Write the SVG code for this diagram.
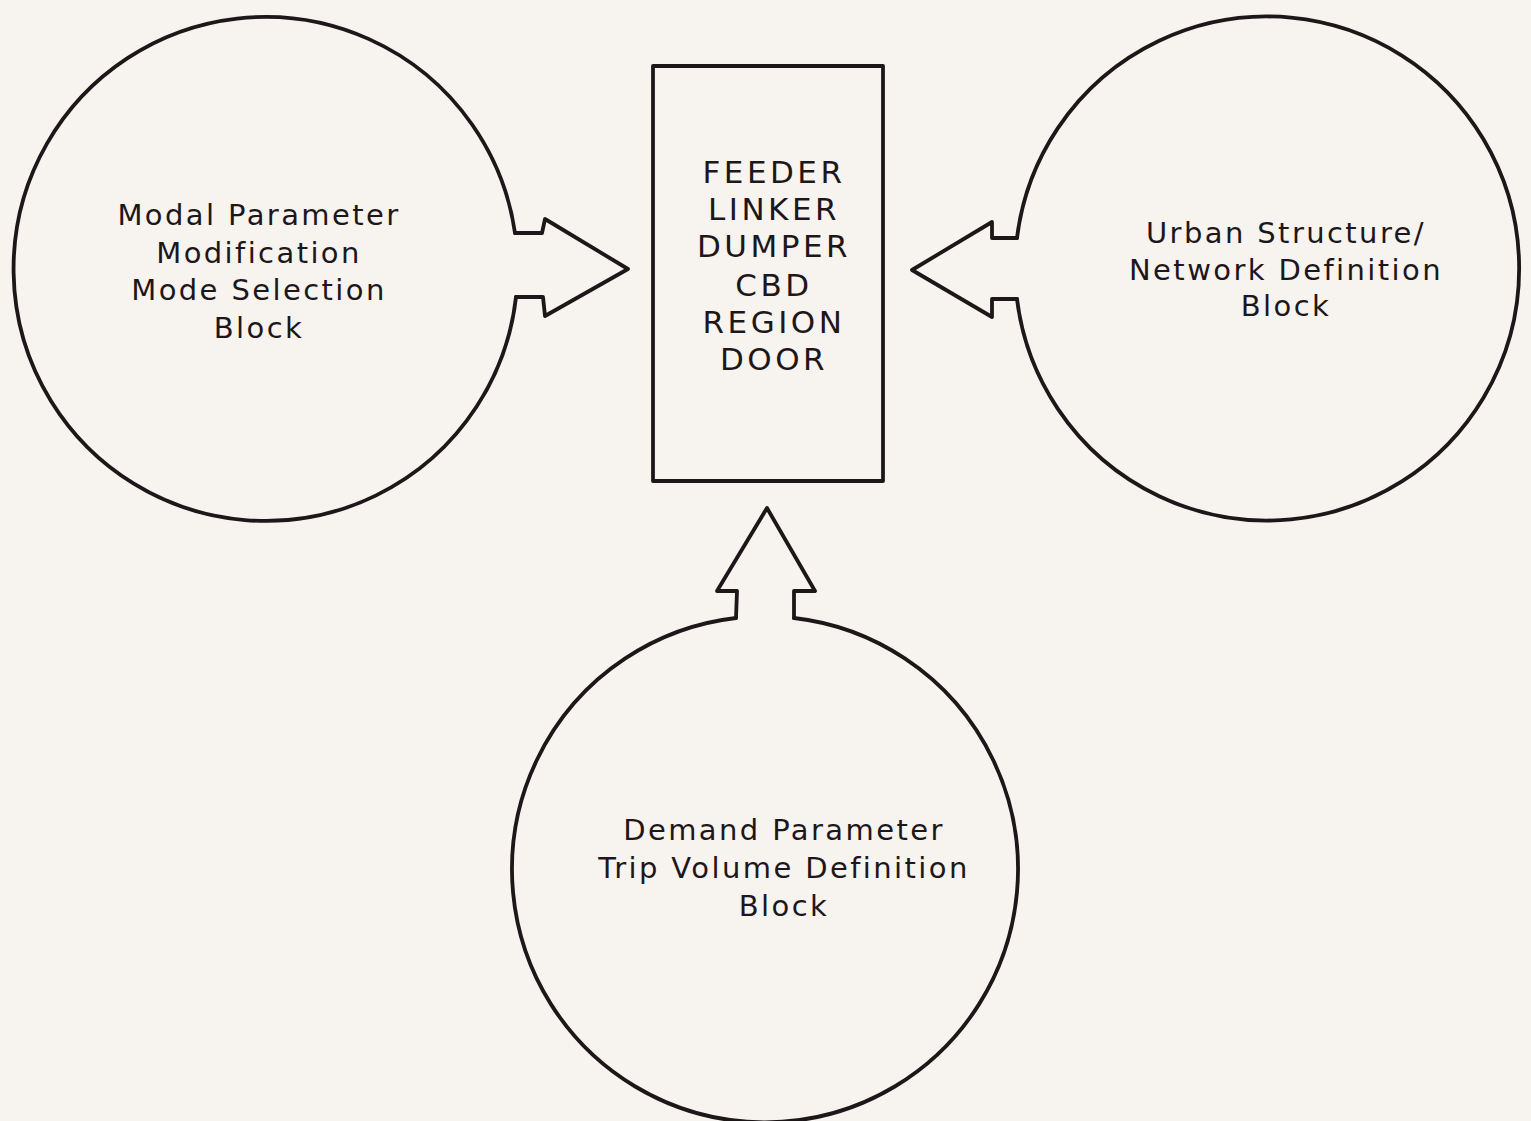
<svg xmlns="http://www.w3.org/2000/svg" width="1531" height="1121" viewBox="0 0 1531 1121">
<style>
.ln{fill:none;stroke:#1e1719;stroke-width:3.8;stroke-linejoin:round;stroke-linecap:round}
.t{font-family:"DejaVu Sans",sans-serif;font-size:29px;fill:#1e1719;text-anchor:middle;letter-spacing:2.4px}
.b{font-family:"DejaVu Sans",sans-serif;font-size:31px;fill:#1e1719;text-anchor:middle;letter-spacing:3.5px}
</style>
<rect width="1531" height="1121" fill="#f7f3ef"/>
<g id="node-modal">
<path class="ln" d="M 515 233 A 252 252 0 1 0 516 297"/>
<text class="t" x="259" y="225">Modal Parameter</text>
<text class="t" x="259" y="263">Modification</text>
<text class="t" x="259" y="300">Mode Selection</text>
<text class="t" x="259" y="338">Block</text>
</g>
<g id="node-programs">
<rect class="ln" x="653" y="66" width="230" height="415"/>
<text class="b" x="774" y="183">FEEDER</text>
<text class="b" x="774" y="220">LINKER</text>
<text class="b" x="774" y="257">DUMPER</text>
<text class="b" x="774" y="296">CBD</text>
<text class="b" x="774" y="333">REGION</text>
<text class="b" x="774" y="370">DOOR</text>
</g>
<g id="node-urban">
<path class="ln" d="M 1017 238 A 252 252 0 1 1 1017 299"/>
<text class="t" x="1286" y="243">Urban Structure/</text>
<text class="t" x="1286" y="280">Network Definition</text>
<text class="t" x="1286" y="316">Block</text>
</g>
<g id="node-demand">
<path class="ln" d="M 736 618 A 253 253 0 1 0 794 618"/>
<text class="t" x="784" y="840">Demand Parameter</text>
<text class="t" x="784" y="878">Trip Volume Definition</text>
<text class="t" x="784" y="916">Block</text>
</g>
<g id="connectors">
<path class="ln" d="M 515 233 L 542 233 L 545 219 L 628 269 L 545 316 L 543 297 L 516 297"/>
<path class="ln" d="M 1017 238 L 992 238 L 992 222 L 912 270 L 992 317 L 992 299 L 1017 299"/>
<path class="ln" d="M 736 618 L 737 591 L 717 591 L 767 508 L 815 591 L 794 591 L 794 618"/>
</g>
</svg>
